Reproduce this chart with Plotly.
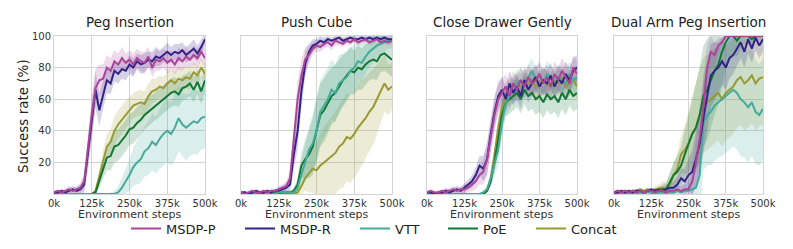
import plotly.graph_objects as go

# ---------------- data ----------------
steps_k = [0, 12.5, 25, 37.5, 50, 62.5, 75, 87.5, 100, 112.5, 125, 137.5, 150, 162.5, 175, 187.5,
           200, 212.5, 225, 237.5, 250, 262.5, 275, 287.5, 300, 312.5, 325, 337.5, 350, 362.5,
           375, 387.5, 400, 412.5, 425, 437.5, 450, 462.5, 475, 487.5, 500]

tasks = ["Peg Insertion", "Push Cube", "Close Drawer Gently", "Dual Arm Peg Insertion"]
methods = ["MSDP-P", "MSDP-R", "VTT", "PoE", "Concat"]
colors = ["#AA4499", "#332288", "#44AA99", "#117733", "#999933"]
x_tick_vals = [0, 125, 250, 375, 500]
x_tick_text = ["0k", "125k", "250k", "375k", "500k"]
y_tick_vals = [20, 40, 60, 80, 100]

# Peg Insertion
peg_msdp_p = [1, 2, 1, 2, 3, 2, 3, 4, 8, 30, 50, 67, 72, 73, 80, 78, 84, 82, 86, 83, 85, 82, 86, 84, 83, 87, 80, 85, 84, 86, 83, 85, 82, 86, 84, 87, 85, 88, 86, 90, 86]
peg_msdp_r = [1, 1, 2, 1, 2, 3, 2, 3, 6, 25, 45, 66, 53, 63, 72, 70, 78, 76, 79, 78, 82, 80, 84, 82, 83, 85, 84, 87, 86, 88, 90, 88, 90, 89, 91, 88, 90, 92, 89, 93, 98]
peg_vtt = [0, 0, 0, 0, 0, 0, 0, 0, 0, 0, 0, 0, 0, 0, 0, 0, 0, 1, 4, 8, 12, 17, 20, 22, 27, 29, 33, 31, 35, 38, 40, 38, 42, 48, 44, 42, 44, 46, 45, 48, 49]
peg_poe = [0, 0, 0, 0, 0, 0, 0, 0, 0, 0, 0, 1, 8, 15, 23, 24, 30, 31, 34, 37, 41, 42, 45, 47, 50, 52, 54, 56, 58, 60, 62, 64, 65, 63, 67, 68, 70, 66, 71, 65, 72]
peg_concat = [0, 0, 0, 0, 0, 0, 0, 0, 0, 0, 0, 2, 12, 22, 30, 33, 40, 44, 47, 50, 53, 56, 57, 58, 57, 62, 65, 66, 68, 67, 70, 72, 70, 73, 72, 74, 73, 77, 75, 80, 76]
peg_msdp_p_sd = [1, 1, 1, 2, 2, 2, 2, 3, 5, 10, 12, 12, 10, 9, 8, 8, 7, 7, 7, 6, 6, 7, 6, 6, 7, 6, 6, 7, 6, 6, 7, 6, 6, 7, 6, 6, 5, 6, 6, 5, 6]
peg_msdp_r_sd = [1, 1, 1, 1, 2, 2, 2, 3, 5, 10, 12, 12, 10, 9, 8, 7, 7, 6, 6, 6, 6, 6, 5, 6, 6, 5, 6, 6, 5, 5, 6, 5, 5, 6, 5, 5, 5, 6, 5, 5, 4]
peg_vtt_sd = [0, 0, 0, 0, 0, 0, 0, 0, 0, 0, 0, 0, 0, 0, 0, 1, 2, 4, 6, 8, 10, 12, 14, 15, 16, 17, 18, 18, 19, 20, 20, 20, 21, 21, 20, 21, 20, 21, 20, 20, 20]
peg_poe_sd = [0, 0, 0, 0, 0, 0, 0, 0, 0, 0, 0, 1, 4, 6, 8, 9, 10, 10, 10, 10, 10, 10, 10, 10, 9, 9, 9, 9, 9, 9, 9, 9, 9, 8, 8, 8, 8, 8, 8, 8, 8]
peg_concat_sd = [0, 0, 0, 0, 0, 0, 0, 0, 0, 0, 0, 1, 4, 6, 8, 8, 9, 9, 9, 9, 8, 8, 8, 8, 8, 8, 8, 7, 7, 7, 7, 7, 7, 7, 7, 7, 7, 6, 6, 6, 6]

# Push Cube
push_msdp_p = [1, 0, 1, 2, 1, 1, 2, 1, 2, 2, 3, 4, 5, 10, 35, 60, 75, 85, 88, 92, 94, 93, 95, 96, 94, 97, 96, 95, 97, 96, 98, 96, 97, 98, 96, 97, 98, 96, 97, 96, 97]
push_msdp_r = [1, 1, 0, 1, 2, 1, 1, 2, 1, 2, 2, 3, 4, 6, 25, 40, 65, 82, 90, 94, 95, 97, 96, 98, 97, 98, 99, 97, 98, 99, 98, 98, 99, 98, 99, 98, 99, 98, 99, 98, 98]
push_vtt = [0, 1, 0, 0, 1, 0, 1, 0, 1, 0, 1, 1, 1, 1, 1, 4, 12, 20, 28, 32, 40, 52, 56, 60, 66, 64, 70, 72, 74, 78, 80, 84, 83, 87, 90, 92, 94, 95, 96, 97, 97]
push_poe = [0, 1, 0, 1, 0, 1, 0, 1, 0, 1, 0, 1, 1, 1, 2, 6, 18, 22, 25, 30, 40, 50, 53, 58, 62, 64, 68, 72, 75, 78, 77, 80, 79, 82, 84, 85, 84, 88, 89, 87, 85]
push_concat = [0, 0, 0, 0, 0, 0, 0, 0, 0, 0, 0, 0, 0, 0, 0, 1, 5, 10, 13, 16, 15, 18, 20, 22, 24, 26, 30, 32, 36, 35, 38, 42, 45, 48, 52, 55, 60, 65, 70, 66, 68]
push_msdp_p_sd = [1, 1, 1, 1, 1, 1, 1, 1, 1, 1, 2, 2, 3, 5, 10, 12, 10, 8, 6, 4, 4, 3, 3, 3, 3, 3, 2, 2, 2, 2, 2, 2, 2, 2, 2, 2, 2, 2, 2, 2, 2]
push_msdp_r_sd = [1, 1, 1, 1, 1, 1, 1, 1, 1, 1, 2, 2, 3, 4, 9, 12, 10, 8, 5, 4, 3, 3, 3, 2, 2, 2, 2, 2, 2, 2, 2, 2, 2, 2, 2, 2, 2, 2, 2, 2, 2]
push_vtt_sd = [1, 1, 1, 1, 1, 1, 1, 1, 1, 1, 1, 1, 1, 1, 2, 4, 8, 12, 15, 18, 20, 20, 20, 20, 19, 18, 18, 17, 16, 15, 14, 13, 12, 11, 10, 9, 8, 7, 6, 5, 5]
push_poe_sd = [1, 1, 1, 1, 1, 1, 1, 1, 1, 1, 1, 1, 1, 1, 2, 4, 8, 12, 15, 18, 20, 20, 20, 19, 18, 18, 17, 16, 15, 15, 14, 14, 13, 13, 12, 12, 12, 11, 11, 11, 11]
push_concat_sd = [0, 0, 0, 0, 0, 0, 0, 0, 0, 0, 0, 0, 0, 0, 1, 2, 5, 8, 12, 15, 18, 20, 22, 24, 25, 26, 27, 28, 28, 28, 28, 28, 27, 26, 25, 24, 22, 20, 18, 16, 15]

# Close Drawer Gently
drawer_msdp_p = [1, 2, 1, 1, 2, 1, 2, 3, 2, 3, 3, 4, 6, 8, 12, 14, 22, 35, 50, 60, 64, 68, 62, 70, 66, 72, 68, 74, 70, 72, 76, 70, 74, 68, 76, 72, 78, 74, 70, 80, 76]
drawer_msdp_r = [1, 1, 0, 1, 1, 2, 1, 2, 3, 2, 4, 6, 8, 12, 18, 16, 22, 38, 52, 62, 66, 60, 70, 64, 68, 62, 72, 66, 70, 74, 68, 72, 70, 75, 68, 73, 70, 76, 72, 78, 80]
drawer_vtt = [0, 0, 0, 0, 0, 0, 0, 0, 0, 0, 0, 0, 0, 0, 0, 1, 3, 10, 20, 28, 45, 58, 62, 66, 70, 72, 68, 74, 78, 72, 75, 70, 76, 73, 70, 74, 72, 70, 76, 72, 74]
drawer_poe = [0, 0, 0, 0, 0, 0, 0, 0, 0, 0, 0, 0, 0, 0, 0, 0, 2, 8, 20, 35, 50, 58, 60, 62, 64, 60, 66, 62, 64, 60, 62, 58, 63, 60, 62, 58, 64, 60, 66, 62, 64]
drawer_concat = [0, 0, 0, 0, 0, 0, 0, 0, 0, 0, 0, 0, 0, 0, 0, 0, 2, 10, 25, 42, 55, 62, 65, 66, 70, 68, 72, 70, 72, 68, 70, 72, 70, 68, 72, 70, 74, 68, 70, 72, 68]
drawer_msdp_p_sd = [1, 1, 1, 1, 1, 2, 2, 2, 2, 2, 3, 3, 4, 5, 6, 8, 10, 10, 10, 9, 9, 8, 8, 8, 8, 8, 8, 8, 8, 8, 8, 8, 8, 8, 8, 8, 8, 8, 8, 8, 8]
drawer_msdp_r_sd = [1, 1, 1, 1, 1, 2, 2, 2, 2, 2, 3, 3, 4, 5, 6, 8, 10, 10, 10, 9, 8, 8, 8, 8, 8, 8, 8, 8, 8, 8, 8, 8, 8, 8, 8, 8, 8, 8, 8, 8, 8]
drawer_vtt_sd = [0, 0, 0, 0, 0, 0, 0, 0, 0, 0, 0, 0, 0, 0, 0, 1, 2, 5, 8, 10, 10, 9, 8, 8, 8, 8, 8, 8, 8, 8, 8, 8, 8, 8, 8, 8, 8, 8, 8, 8, 8]
drawer_poe_sd = [0, 0, 0, 0, 0, 0, 0, 0, 0, 0, 0, 0, 0, 0, 0, 0, 1, 3, 6, 8, 9, 9, 9, 9, 9, 9, 9, 10, 10, 10, 10, 10, 10, 10, 10, 10, 10, 10, 10, 10, 10]
drawer_concat_sd = [0, 0, 0, 0, 0, 0, 0, 0, 0, 0, 0, 0, 0, 0, 0, 0, 1, 3, 6, 8, 9, 9, 8, 8, 8, 8, 8, 8, 8, 8, 8, 8, 8, 8, 8, 8, 8, 8, 8, 8, 8]

# Dual Arm Peg Insertion
dual_msdp_p = [1, 2, 1, 2, 1, 2, 1, 2, 1, 2, 2, 1, 2, 2, 1, 2, 2, 3, 2, 3, 3, 8, 20, 35, 55, 80, 90, 88, 94, 96, 100, 100, 100, 100, 100, 100, 100, 100, 100, 100, 100]
dual_msdp_r = [1, 1, 2, 1, 2, 1, 2, 2, 1, 2, 3, 2, 3, 2, 3, 4, 4, 6, 10, 8, 12, 14, 22, 32, 48, 62, 75, 78, 80, 84, 80, 86, 88, 92, 96, 90, 98, 92, 99, 94, 98]
dual_vtt = [0, 1, 0, 1, 0, 1, 0, 1, 0, 1, 1, 0, 1, 1, 1, 1, 1, 2, 1, 2, 2, 3, 4, 12, 45, 50, 52, 56, 58, 60, 62, 64, 66, 64, 60, 58, 55, 58, 52, 50, 54]
dual_poe = [0, 1, 1, 1, 0, 1, 1, 2, 1, 2, 1, 2, 2, 3, 3, 8, 12, 14, 18, 25, 32, 38, 42, 50, 62, 66, 72, 78, 82, 90, 96, 100, 100, 97, 100, 100, 100, 98, 100, 100, 100]
dual_concat = [1, 2, 1, 2, 1, 2, 2, 3, 2, 3, 2, 3, 3, 4, 3, 6, 12, 16, 25, 28, 32, 38, 42, 50, 56, 58, 60, 62, 64, 60, 64, 66, 68, 72, 74, 70, 72, 75, 70, 73, 74]
dual_msdp_p_sd = [1, 1, 1, 1, 1, 1, 1, 1, 1, 1, 1, 1, 1, 1, 1, 2, 2, 2, 3, 3, 5, 10, 15, 20, 20, 15, 10, 8, 5, 3, 2, 1, 1, 1, 1, 1, 1, 1, 1, 1, 1]
dual_msdp_r_sd = [1, 1, 1, 1, 1, 1, 1, 1, 1, 1, 1, 1, 2, 2, 3, 3, 4, 5, 6, 8, 10, 14, 18, 20, 22, 22, 20, 18, 16, 15, 14, 13, 12, 11, 10, 10, 9, 9, 8, 8, 8]
dual_vtt_sd = [1, 1, 1, 1, 1, 1, 1, 1, 1, 1, 1, 1, 1, 1, 2, 2, 3, 3, 4, 5, 8, 12, 18, 25, 30, 32, 34, 35, 35, 36, 36, 36, 36, 36, 36, 35, 35, 34, 33, 32, 32]
dual_poe_sd = [1, 1, 1, 1, 1, 1, 1, 1, 1, 1, 1, 1, 2, 3, 4, 6, 8, 10, 12, 15, 18, 22, 26, 30, 32, 32, 30, 28, 25, 22, 18, 15, 12, 10, 8, 6, 5, 4, 4, 3, 3]
dual_concat_sd = [1, 1, 1, 1, 1, 1, 1, 1, 1, 1, 1, 2, 3, 4, 5, 6, 8, 10, 12, 15, 20, 24, 28, 30, 30, 30, 30, 30, 30, 30, 30, 30, 30, 30, 30, 30, 30, 30, 30, 30, 30]

# ------------- assemble -------------
panel_means = [
    [peg_msdp_p, peg_msdp_r, peg_vtt, peg_poe, peg_concat],
    [push_msdp_p, push_msdp_r, push_vtt, push_poe, push_concat],
    [drawer_msdp_p, drawer_msdp_r, drawer_vtt, drawer_poe, drawer_concat],
    [dual_msdp_p, dual_msdp_r, dual_vtt, dual_poe, dual_concat],
]
panel_sds = [
    [peg_msdp_p_sd, peg_msdp_r_sd, peg_vtt_sd, peg_poe_sd, peg_concat_sd],
    [push_msdp_p_sd, push_msdp_r_sd, push_vtt_sd, push_poe_sd, push_concat_sd],
    [drawer_msdp_p_sd, drawer_msdp_r_sd, drawer_vtt_sd, drawer_poe_sd, drawer_concat_sd],
    [dual_msdp_p_sd, dual_msdp_r_sd, dual_vtt_sd, dual_poe_sd, dual_concat_sd],
]
legend_widths = [69, 70, 43, 43, 50]

# page body has an 8px default margin: the figure is shrunk and all
# screen positions are shifted by it
OFF = 8
W, H = 793 - OFF, 249 - OFF
x_px = [(54, 205), (241, 392), (427, 577), (614, 763)]
y_top_px, y_bot_px = 36, 194
FONT = "DejaVu Sans"


def fx(px):
    return (px - OFF) / W


def fy(py):
    return 1 - (py - OFF) / H


def rgba(hex_color, a):
    h = hex_color.lstrip("#")
    return "rgba(%d,%d,%d,%.2f)" % (int(h[0:2], 16), int(h[2:4], 16), int(h[4:6], 16), a)


fig = go.Figure()
draw_order = [4, 3, 2, 1, 0]

for p in range(4):
    xa = "x" if p == 0 else "x%d" % (p + 1)
    ya = "y" if p == 0 else "y%d" % (p + 1)
    for m in draw_order:
        mean = panel_means[p][m]
        sd = panel_sds[p][m]
        upper = [a + b for a, b in zip(mean, sd)]
        lower = [a - b for a, b in zip(mean, sd)]
        fig.add_trace(go.Scatter(
            x=steps_k + steps_k[::-1], y=upper + lower[::-1],
            fill="toself", fillcolor=rgba(colors[m], 0.2),
            line=dict(width=0), mode="lines", hoverinfo="skip",
            showlegend=False, xaxis=xa, yaxis=ya))
    for m in draw_order:
        fig.add_trace(go.Scatter(
            x=steps_k, y=panel_means[p][m], mode="lines",
            line=dict(color=colors[m], width=2),
            name=methods[m], legendgroup=methods[m],
            showlegend=(p == 0), legendrank=m + 1,
            legendwidth=legend_widths[m],
            xaxis=xa, yaxis=ya))

layout = dict(
    width=W, height=H,
    margin=dict(l=0, r=0, t=0, b=0, pad=0, autoexpand=False),
    paper_bgcolor="white", plot_bgcolor="white",
    font=dict(family=FONT, size=10, color="#333333"),
    showlegend=True,
    legend=dict(orientation="h", x=fx(126), xanchor="left", y=fy(228.5), yanchor="middle",
                font=dict(family=FONT, size=13, color="#222222"),
                bgcolor="rgba(0,0,0,0)", traceorder="normal"),
    annotations=[],
)

ydom = [fy(y_bot_px), fy(y_top_px)]
for p in range(4):
    sfx = "" if p == 0 else str(p + 1)
    dom = [fx(x_px[p][0]), fx(x_px[p][1])]
    layout["xaxis" + sfx] = dict(
        domain=dom, range=[0, 500], anchor="y" + sfx, automargin=False,
        tickvals=x_tick_vals, ticktext=x_tick_text,
        showgrid=True, gridcolor="#d4d4d4", gridwidth=1,
        showline=True, linecolor="#d4d4d4", linewidth=1, mirror=True,
        zeroline=False, ticks="", tickfont=dict(size=10, color="#333333"))
    layout["yaxis" + sfx] = dict(
        domain=ydom, range=[0, 100], anchor="x" + sfx, automargin=False,
        tickvals=y_tick_vals, showticklabels=(p == 0),
        showgrid=True, gridcolor="#d4d4d4", gridwidth=1,
        showline=True, linecolor="#d4d4d4", linewidth=1, mirror=True,
        zeroline=False, ticks="", tickfont=dict(size=10, color="#333333"))
    cx = fx((x_px[p][0] + x_px[p][1]) / 2)
    layout["annotations"].append(dict(
        text=tasks[p], x=cx, y=fy(21.5), xref="paper", yref="paper",
        xanchor="center", yanchor="middle", showarrow=False,
        font=dict(family=FONT, size=13.5, color="#222222")))
    layout["annotations"].append(dict(
        text="Environment steps", x=cx, y=fy(214.5), xref="paper", yref="paper",
        xanchor="center", yanchor="middle", showarrow=False,
        font=dict(family=FONT, size=11, color="#333333")))

layout["annotations"].append(dict(
    text="Success rate (%)", x=fx(23), y=fy(116), xref="paper", yref="paper",
    xanchor="center", yanchor="middle", textangle=-90, showarrow=False,
    font=dict(family=FONT, size=13.5, color="#222222")))

fig.update_layout(**layout)
fig.write_html("out.html")
